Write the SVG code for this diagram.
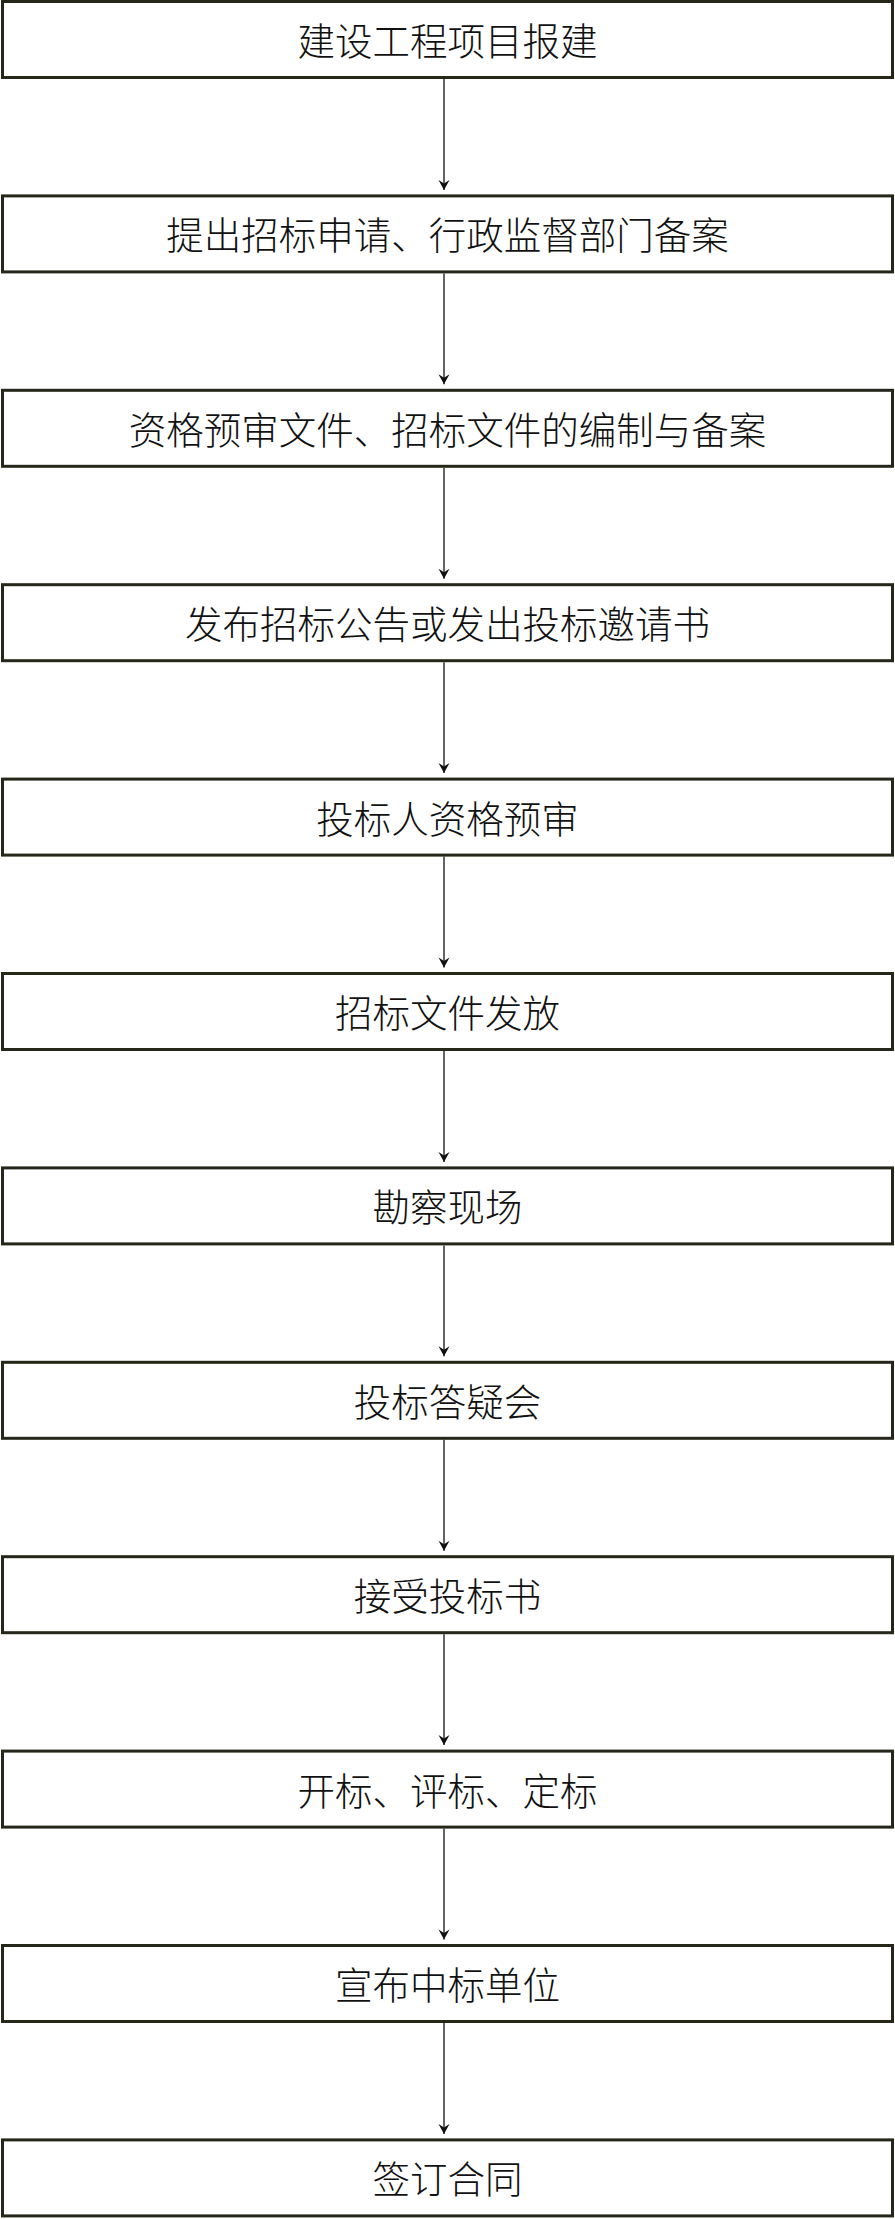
<svg xmlns="http://www.w3.org/2000/svg" width="895" height="2219" viewBox="0 0 895 2219">
<style>
.box rect{fill:#ffffff;stroke:#26261a;stroke-width:3}
.box text{font-family:"Noto Sans CJK SC","Noto Sans CJK JP",sans-serif;font-size:37.5px;font-weight:300;fill:#111;text-anchor:middle}
.conn line{stroke:#111;stroke-width:1.3;fill:none}
</style>
<defs>
<marker id="arr" markerUnits="userSpaceOnUse" markerWidth="14" markerHeight="14" viewBox="-11 -7 13 14" refX="0" refY="0" orient="auto">
<path d="M0,0 L-10,-5.5 L-6.5,0 L-10,5.5 Z" fill="#111"/>
</marker>
</defs>
<rect width="895" height="2219" fill="#ffffff"/>
<g id="connectors" class="conn">
<line x1="444" y1="79" x2="444" y2="189.9" marker-end="url(#arr)"/>
<line x1="444" y1="273.4" x2="444" y2="384.3" marker-end="url(#arr)"/>
<line x1="444" y1="467.8" x2="444" y2="578.7" marker-end="url(#arr)"/>
<line x1="444" y1="662.2" x2="444" y2="773.1" marker-end="url(#arr)"/>
<line x1="444" y1="856.6" x2="444" y2="967.5" marker-end="url(#arr)"/>
<line x1="444" y1="1051" x2="444" y2="1161.9" marker-end="url(#arr)"/>
<line x1="444" y1="1245.4" x2="444" y2="1356.3" marker-end="url(#arr)"/>
<line x1="444" y1="1439.8" x2="444" y2="1550.7" marker-end="url(#arr)"/>
<line x1="444" y1="1634.2" x2="444" y2="1745.1" marker-end="url(#arr)"/>
<line x1="444" y1="1828.6" x2="444" y2="1939.5" marker-end="url(#arr)"/>
<line x1="444" y1="2023" x2="444" y2="2133.9" marker-end="url(#arr)"/>
</g>
<g id="n1" class="box" transform="translate(0,1.5)"><rect x="2.5" y="0" width="890" height="76"/><text x="447.5" y="53.5">建设工程项目报建</text></g>
<g id="n2" class="box" transform="translate(0,195.9)"><rect x="2.5" y="0" width="890" height="76"/><text x="447.5" y="53.5">提出招标申请、行政监督部门备案</text></g>
<g id="n3" class="box" transform="translate(0,390.3)"><rect x="2.5" y="0" width="890" height="76"/><text x="447.5" y="53.5">资格预审文件、招标文件的编制与备案</text></g>
<g id="n4" class="box" transform="translate(0,584.7)"><rect x="2.5" y="0" width="890" height="76"/><text x="447.5" y="53.5">发布招标公告或发出投标邀请书</text></g>
<g id="n5" class="box" transform="translate(0,779.1)"><rect x="2.5" y="0" width="890" height="76"/><text x="447.5" y="53.5">投标人资格预审</text></g>
<g id="n6" class="box" transform="translate(0,973.5)"><rect x="2.5" y="0" width="890" height="76"/><text x="447.5" y="53.5">招标文件发放</text></g>
<g id="n7" class="box" transform="translate(0,1167.9)"><rect x="2.5" y="0" width="890" height="76"/><text x="447.5" y="53.5">勘察现场</text></g>
<g id="n8" class="box" transform="translate(0,1362.3)"><rect x="2.5" y="0" width="890" height="76"/><text x="447.5" y="53.5">投标答疑会</text></g>
<g id="n9" class="box" transform="translate(0,1556.7)"><rect x="2.5" y="0" width="890" height="76"/><text x="447.5" y="53.5">接受投标书</text></g>
<g id="n10" class="box" transform="translate(0,1751.1)"><rect x="2.5" y="0" width="890" height="76"/><text x="447.5" y="53.5">开标、评标、定标</text></g>
<g id="n11" class="box" transform="translate(0,1945.5)"><rect x="2.5" y="0" width="890" height="76"/><text x="447.5" y="53.5">宣布中标单位</text></g>
<g id="n12" class="box" transform="translate(0,2139.9)"><rect x="2.5" y="0" width="890" height="76"/><text x="447.5" y="53.5">签订合同</text></g>
</svg>
